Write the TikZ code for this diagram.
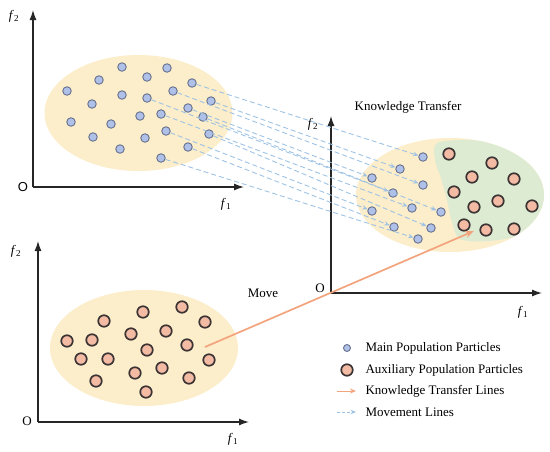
\documentclass[tikz,border=0pt]{standalone}
\usepackage{fontspec}
\setmainfont{Liberation Serif}
\setsansfont{Liberation Sans}
\usepackage{tikz}
\usetikzlibrary{arrows.meta, positioning}

\definecolor{popfill}{HTML}{FCEDCB}
\definecolor{zonefill}{HTML}{DCEBD2}
\definecolor{mainfill}{HTML}{AFC1E8}
\definecolor{mainedge}{HTML}{67718C}
\definecolor{auxfill}{HTML}{F4BBA4}
\definecolor{auxedge}{HTML}{3B3434}
\definecolor{moveblue}{HTML}{9EC3E4}
\definecolor{transorange}{HTML}{F3A47D}

\newcommand{\fl}[1]{\textit{f}\textsubscript{#1}}

\begin{document}
\begin{tikzpicture}[x=1pt, y=-1pt, font=\fontsize{13}{15}\selectfont,
    mainp/.style={circle, draw=mainedge, fill=mainfill, line width=0.9pt, inner sep=0pt, minimum size=8.5pt},
    auxp/.style={circle, draw=auxedge, fill=auxfill, line width=1.7pt, inner sep=0pt, minimum size=11.5pt},
    axis/.style={line width=1.3pt, draw=black!85, -{Latex[length=10pt, width=7pt]}},
    moveline/.style={draw=moveblue, line width=0.9pt, dash pattern=on 5pt off 3pt, -{Stealth[length=5.5pt, width=4.5pt]}},
    transline/.style={draw=transorange, line width=1.7pt, -{Stealth[length=9pt, width=7pt]}}]
    \useasboundingbox (0,0) rectangle (550,451);

    % populations
    \fill[popfill] (138.5,113) ellipse (94pt and 58pt);
    \fill[popfill] (144,348) ellipse (94pt and 58pt);
    \fill[popfill] (450,195) ellipse (94pt and 57pt);
    \begin{scope}
        \clip (450,195) ellipse (94pt and 57pt);
        \fill[zonefill] plot[smooth cycle] coordinates {(437,143) (470,140) (505,145) (530,156) (547,185) (545,212) (528,233) (490,241) (460,239) (452,222) (447,200) (441,178) (435,160)};
    \end{scope}

    % axes
    \coordinate (O1) at (33,187);
    \coordinate (O2) at (331,293);
    \coordinate (O3) at (38,422);
    \draw[axis] (O1) -- (33,10);
    \draw[axis] (O1) -- (244,187);
    \draw[axis] (O2) -- (331,116);
    \draw[axis] (O2) -- (542,293);
    \draw[axis] (O3) -- (38,241);
    \draw[axis] (O3) -- (249,422);
    \node at (23,187) {\sffamily O};
    \node at (320,288) {O};
    \node at (27,421) {O};
    \node at (14,16) {\fl{2}};
    \node at (226,204) {\fl{1}};
    \node at (313,124) {\fl{2}};
    \node at (523,312) {\fl{1}};
    \node at (16,251) {\fl{2}};
    \node at (233,439) {\fl{1}};

    % main population
    \foreach \p [count=\i] in {(122,67),(167,68),(99,80),(147,77),(192,83),(67,91),(122,95),(147,98),
        (173,91),(211,101),(92,104),(188,108),(140,116),(161,114),(203,117),(71,122),(111,124),
        (166,131),(209,134),(93,137),(145,138),(120,149),(188,147),(161,158)}
        \node[mainp] (m\i) at \p {};
    \foreach \p [count=\i] in {(423,157),(400,169),(372,178),(423,185),(393,193),(412,208),
        (441,212),(372,211),(394,227),(431,228),(418,239)}
        \node[mainp] (t\i) at \p {};

    % auxiliary population
    \foreach \p in {(449,154),(492,163),(472,177),(514,179),(454,192),(498,201),(474,207),
        (532,206),(464,225),(486,230),(514,229)}
        \node[auxp] at \p {};
    \foreach \p in {(143,312),(182,307),(104,321),(205,322),(131,334),(166,331),(67,341),(92,340),
        (187,345),(147,350),(81,359),(108,359),(209,360),(135,373),(162,368),(189,378),(96,381),(146,392)}
        \node[auxp] at \p {};

    % movement
    \draw[moveline] (m5) -- (t1);
    \draw[moveline] (m10) -- (t2);
    \draw[moveline] (m12) -- (t3);
    \draw[moveline] (m9) -- (t4);
    \draw[moveline] (m8) -- (t5);
    \draw[moveline] (m14) -- (t6);
    \draw[moveline] (m15) -- (t7);
    \draw[moveline] (m18) -- (t8);
    \draw[moveline] (m23) -- (t9);
    \draw[moveline] (m19) -- (t10);
    \draw[moveline] (m24) -- (t11);

    % knowledge transfer
    \coordinate (src) at (205,347);
    \coordinate (dst) at (474,231);
    \draw[transline] (src) -- (dst);
    \node at (263,293) {Move};
    \node at (408,107) {Knowledge Transfer};

    % legend
    \node[mainp, minimum size=7pt] (lg1) at (347,348) {};
    \node[auxp] (lg2) at (347,370) {};
    \coordinate (lg3) at (337,391);
    \coordinate (lg4) at (337,412);
    \draw[transline, line width=1pt, -{Stealth[length=6pt, width=5pt]}] (lg3) -- ++(19,0);
    \draw[moveline, dash pattern=on 3pt off 2pt] (lg4) -- ++(19,0);
    \node[anchor=west] at (362,348) {Main Population Particles};
    \node[anchor=west] at (362,370) {Auxiliary Population Particles};
    \node[anchor=west] at (362,391) {Knowledge Transfer Lines};
    \node[anchor=west] at (362,412) {Movement Lines};
\end{tikzpicture}
\end{document}
